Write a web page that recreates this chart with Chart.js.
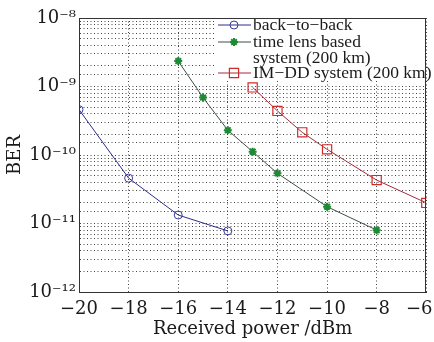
<!DOCTYPE html>
<html><head><meta charset="utf-8">
<script src="https://cdn.jsdelivr.net/npm/chart.js@4/dist/chart.umd.min.js"></script>
<style>html,body{margin:0;padding:0;background:#fff}canvas{display:block}</style>
</head><body>
<canvas id="c" width="434" height="342"></canvas>
<script>
const xTicks = [-20, -18, -16, -14, -12, -10, -8, -6];
const seriesNames = ['back−to−back', 'time lens based system (200 km)', 'IM−DD system (200 km)'];
const legendLines = [['back−to−back'], ['time lens based', 'system (200 km)'], ['IM−DD system (200 km)']];
const btbX = [-20, -18, -16, -14];
const btbY = [4.6e-10, 4.6e-11, 1.33e-11, 7.8e-12];
const tlX = [-16, -15, -14, -13, -12, -10, -8];
const tlY = [2.35e-9, 6.9e-10, 2.3e-10, 1.12e-10, 5.4e-11, 1.76e-11, 8.0e-12];
const imX = [-13, -12, -11, -10, -8, -6];
const imY = [9.7e-10, 4.4e-10, 2.14e-10, 1.21e-10, 4.3e-11, 2.0e-11];

const FONT = '"DejaVu Serif", serif';
const LFONT = '"Liberation Serif", serif';
const sup = {'-':'⁻','0':'⁰','1':'¹','2':'²','3':'³','4':'⁴','5':'⁵','6':'⁶','7':'⁷','8':'⁸','9':'⁹'};
function toSup(s){return String(s).split('').map(c=>sup[c]||c).join('');}
function pts(xs, ys){return xs.map((x,i)=>({x:x,y:ys[i]}));}

const frame = {
  id:'frame',
  beforeDraw(chart){
    const s = chart.scales.x;
    const items = s.getLabelItems(chart.chartArea);
    const last = items[items.length-1];
    if (last && !last._nudged) { last.options.translation[0] -= 7; last._nudged = true; }
  },
  afterDatasetsDraw(chart){
    const a = chart.chartArea, ctx = chart.ctx;
    const lx = 215, ly = 19, lw = a.right - lx - 1, lh = 61;
    ctx.save();
    ctx.fillStyle = '#ffffff';
    ctx.fillRect(lx, ly, lw, lh);
    const rows = [25, 42, 58, 73];
    const rowIdx = [0, 1, 3];
    ctx.font = '17.5px ' + LFONT;
    ctx.textBaseline = 'middle';
    chart.data.datasets.forEach((ds, i)=>{
      const y = rows[rowIdx[i]];
      ctx.strokeStyle = ds.borderColor; ctx.lineWidth = 1; ctx.setLineDash([]);
      ctx.beginPath(); ctx.moveTo(218, y); ctx.lineTo(251, y); ctx.stroke();
      ctx.fillStyle = ds.pointBackgroundColor; ctx.strokeStyle = ds.pointBorderColor; ctx.lineWidth = ds.pointBorderWidth;
      Chart.helpers.drawPoint(ctx, {pointStyle: ds.pointStyle, radius: ds.pointRadius, borderWidth: ds.pointBorderWidth}, 234, y);
      ctx.fillStyle = '#1a1a1a';
      legendLines[i].forEach((t, k)=>{ ctx.fillText(t, 253, rows[rowIdx[i] + k]); });
    });
    ctx.strokeStyle = '#333'; ctx.lineWidth = 1;
    ctx.strokeRect(Math.round(a.left)+0.5, Math.round(a.top)+0.5, Math.round(a.right-a.left)-1, Math.round(a.bottom-a.top));
    ctx.restore();
  }
};

new Chart(document.getElementById('c'), {
  type: 'line',
  data: {
    datasets: [
      {label: seriesNames[0], data: pts(btbX, btbY), borderColor:'#2c2c8e', borderWidth:1, pointStyle:'circle', pointRadius:4,
       pointBorderColor:'#3a3aa0', pointBackgroundColor:'rgba(255,255,255,0)', pointBorderWidth:1, tension:0},
      {label: seriesNames[1], data: pts(tlX, tlY), borderColor:'#3d4f45', borderWidth:1, pointStyle:'star', pointRadius:4,
       pointBorderColor:'#1f8a35', pointBackgroundColor:'#1f8a35', pointBorderWidth:2, tension:0},
      {label: seriesNames[2], data: pts(imX, imY), borderColor:'#a52a3c', borderWidth:1, pointStyle:'rect', pointRadius:6.5,
       pointBorderColor:'#d02b2b', pointBackgroundColor:'rgba(255,255,255,0)', pointBorderWidth:1.2, tension:0}
    ]
  },
  options: {
    responsive:false, animation:false, devicePixelRatio:1,
    layout:{padding:{top:18, right:7, left:0, bottom:0}},
    plugins:{legend:{display:false}, tooltip:{enabled:false}},
    scales:{
      x:{type:'linear', min:-20, max:-6,
        afterBuildTicks(s){ s.ticks = xTicks.map(v=>({value:v})); },
        afterFit(s){ s.height = 50; s.paddingLeft = 0; s.paddingRight = 0; },
        grid:{color:'#444', lineWidth:1, drawTicks:false},
        border:{display:true, color:'#333', dash:[1,2.5]},
        ticks:{color:'#1a1a1a', padding:7, maxRotation:0, autoSkip:false, font:{family:FONT, size:18},
          callback:(v)=>String(v).replace('-', '−')},
        title:{display:true, text:'Received power /dBm', color:'#1a1a1a', font:{family:FONT, size:18}, padding:{top:0,bottom:2}}
      },
      y:{type:'logarithmic', min:1e-12, max:1e-8,
        afterFit(s){ s.width = 79; s.paddingTop = 0; s.paddingBottom = 0; },
        grid:{color:'#444', lineWidth:1, drawTicks:false},
        border:{display:true, color:'#333', dash:[1,2.5]},
        ticks:{color:'#1a1a1a', padding:3, autoSkip:false, font:{family:FONT, size:18},
          callback:(v)=>{ const e = Math.log10(v); return Math.abs(e-Math.round(e))<1e-9 ? '10'+toSup(Math.round(e)) : ''; }},
        title:{display:true, text:'BER', color:'#1a1a1a', font:{family:FONT, size:18}, padding:{top:5,bottom:2}}
      }
    }
  },
  plugins:[frame]
});
</script>
</body></html>
